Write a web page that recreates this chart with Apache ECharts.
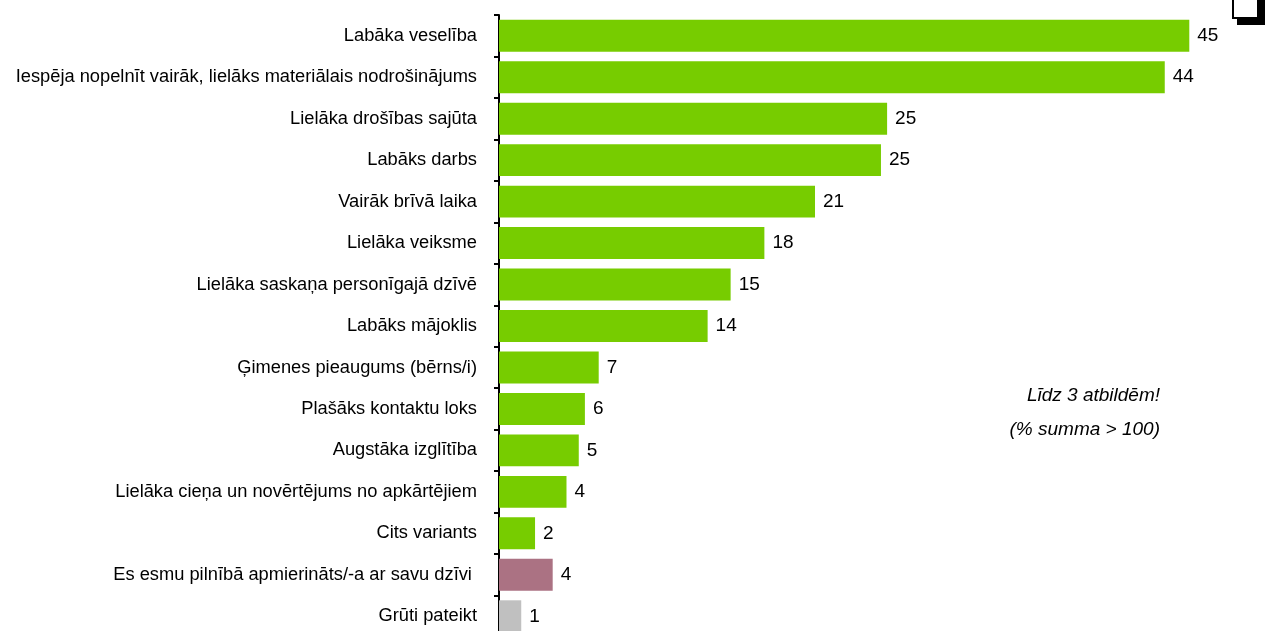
<!DOCTYPE html>
<html>
<head>
<meta charset="utf-8">
<script src="https://cdn.jsdelivr.net/npm/echarts@6/dist/echarts.min.js"></script>
<style>
  html, body { margin: 0; padding: 0; background: #fff; }
  #main { width: 1266px; height: 631px; }
</style>
</head>
<body>
<div id="main"></div>
<script>
// categories top to bottom
const categories = [
  'Labāka veselība',
  'Iespēja nopelnīt vairāk, lielāks materiālais nodrošinājums',
  'Lielāka drošības sajūta',
  'Labāks darbs',
  'Vairāk brīvā laika',
  'Lielāka veiksme',
  'Lielāka saskaņa personīgajā dzīvē',
  'Labāks mājoklis',
  'Ģimenes pieaugums (bērns/i)',
  'Plašāks kontaktu loks',
  'Augstāka izglītība',
  'Lielāka cieņa un novērtējums no apkārtējiem',
  'Cits variants',
  'Es esmu pilnībā apmierināts/-a ar savu dzīvi ',
  'Grūti pateikt'
];
// bar lengths (%)
const values = [45, 43.4, 25.3, 24.9, 20.6, 17.3, 15.1, 13.6, 6.5, 5.6, 5.2, 4.4, 2.35, 3.5, 1.45];
// printed labels
const labels = [45, 44, 25, 25, 21, 18, 15, 14, 7, 6, 5, 4, 2, 4, 1];

const fontFam = "'Liberation Sans Narrow', 'Arial Narrow', 'Liberation Sans', Arial, sans-serif";

let myChart = echarts.init(document.getElementById('main'));
let option = {
  animation: false,
  grid: {
    left: 499,
    right: 0,
    top: 15,
    bottom: -6,
    outerBoundsMode: 'none'
  },
  xAxis: {
    type: 'value',
    min: 0,
    max: 50,
    show: false
  },
  yAxis: {
    type: 'category',
    inverse: true,
    data: categories,
    axisLine: { show: true, lineStyle: { color: '#000', width: 2 } },
    axisTick: { show: true, length: 5, lineStyle: { color: '#000', width: 2 } },
    axisLabel: { margin: 22, fontSize: 18.3, color: '#000', fontFamily: fontFam }
  },
  series: [
    {
      type: 'bar',
      data: values,
      barCategoryGap: '23%',
      itemStyle: {
        color: function (p) {
          if (p.dataIndex === 13) return '#ab7283';
          if (p.dataIndex === 14) return '#c0c0c0';
          return '#77cc00';
        }
      },
      label: {
        show: true,
        position: 'right',
        distance: 8,
        fontSize: 19,
        color: '#000',
        fontFamily: fontFam,
        formatter: function (p) { return labels[p.dataIndex]; }
      }
    }
  ],
  graphic: [
    {
      type: 'text', right: 106, top: 386,
      style: { text: 'Līdz 3 atbildēm!', fontSize: 19, fontStyle: 'italic', fill: '#000', fontFamily: "'Liberation Sans', Arial, sans-serif", textAlign: 'right' }
    },
    {
      type: 'text', right: 106, top: 420,
      style: { text: '(% summa > 100)', fontSize: 19, fontStyle: 'italic', fill: '#000', fontFamily: "'Liberation Sans', Arial, sans-serif", textAlign: 'right' }
    },
    { type: 'rect', shape: { x: 1237, y: -10, width: 28, height: 35 }, style: { fill: '#000' } },
    { type: 'rect', shape: { x: 1233, y: -10, width: 25, height: 28 }, style: { fill: '#fff', stroke: '#000', lineWidth: 2 } }
  ]
};
myChart.setOption(option);
</script>
</body>
</html>
